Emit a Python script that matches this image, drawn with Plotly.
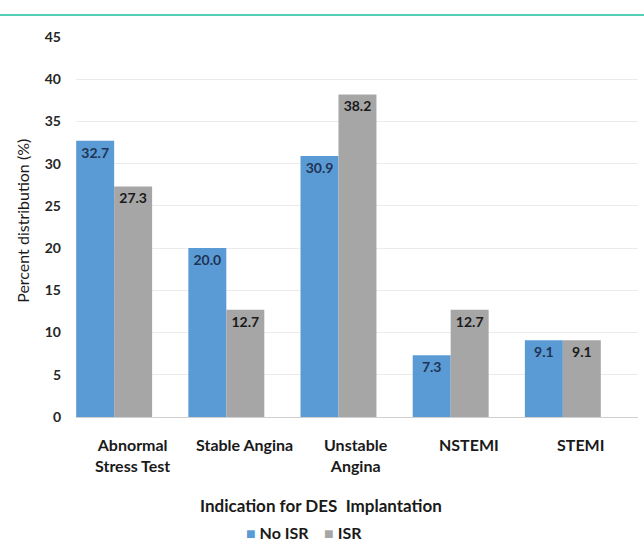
import plotly.graph_objects as go

categories = ["Abnormal<br>Stress Test", "Stable Angina", "Unstable<br>Angina", "NSTEMI", "STEMI"]
no_isr = [32.7, 20.0, 30.9, 7.3, 9.1]
isr = [27.3, 12.7, 38.2, 12.7, 9.1]
y_ticks = [0, 5, 10, 15, 20, 25, 30, 35, 40, 45]
series_names = ["No ISR", "ISR"]

BLUE = "#5b9bd5"
GRAY = "#a6a6a6"
FONT = "Lato"

fig = go.Figure()
fig.add_trace(go.Bar(
    x=categories, y=no_isr, name=series_names[0], marker=dict(color=BLUE, line=dict(width=0)),
    text=[f"{v:.1f}" for v in no_isr], textposition="inside", insidetextanchor="end",
    textfont=dict(family=FONT, size=14, color="#1f3456", weight="bold"), textangle=0,
    showlegend=False,
))
fig.add_trace(go.Bar(
    x=categories, y=isr, name=series_names[1], marker=dict(color=GRAY, line=dict(width=0)),
    text=[f"{v:.1f}" for v in isr], textposition="inside", insidetextanchor="end",
    textfont=dict(family=FONT, size=14, color="#1a1a1a", weight="bold"), textangle=0,
    showlegend=False,
))

# category labels (offset to the right as in the reference)
for c in categories:
    fig.add_annotation(x=c, y=0, xref="x", yref="y", text=c, showarrow=False,
                       yanchor="top", yshift=-16, xshift=18,
                       font=dict(family=FONT, size=16, color="#1a1a1a", weight="bold"),
                       align="center")

fig.add_annotation(x=0.436, xref="paper", y=-0.232, yref="paper", yanchor="middle",
                   text="Indication for DES  Implantation", showarrow=False,
                   font=dict(family=FONT, size=17, color="#1a1a1a", weight="bold"))

fig.add_annotation(x=-0.115, xref="paper", y=0.516, yref="paper", textangle=-90,
                   text="Percent distribution (%)", showarrow=False,
                   font=dict(family=FONT, size=16, color="#1a1a1a"))

# legend as text
fig.add_annotation(x=0.406, xref="paper", y=-0.303, yref="paper", yanchor="middle",
                   text=f"<span style='color:{BLUE}'>■</span>&nbsp;{series_names[0]}&nbsp;&nbsp;&nbsp;&nbsp;"
                        f"<span style='color:{GRAY}'>■</span>&nbsp;{series_names[1]}",
                   showarrow=False, borderpad=0,
                   font=dict(family=FONT, size=16, color="#1a1a1a", weight="bold"))

# teal top rule
fig.add_shape(type="line", xref="paper", yref="paper", x0=-0.2, x1=1.1, y0=1.058, y1=1.058,
              line=dict(color="#1fbf9f", width=1.5))

fig.update_layout(
    width=644, height=543,
    margin=dict(l=76, r=6, t=37, b=126),
    paper_bgcolor="white", plot_bgcolor="white",
    barmode="group", bargap=0.323, bargroupgap=0,
    font=dict(family=FONT, color="#1a1a1a"),
    xaxis=dict(range=[-0.34, 4.67], showticklabels=False, showgrid=False, zeroline=False,
               showline=False, ticks=""),
    yaxis=dict(range=[0, 45], tickvals=y_ticks, showgrid=True, gridcolor="#ebebeb", gridwidth=1,
               zeroline=True, zerolinecolor="#d0d0d0", zerolinewidth=1, showline=False,
               ticks="", ticklabelstandoff=14,
               tickfont=dict(family=FONT, size=14, color="#262626", weight="bold")),
)

fig.write_html("out.html")
